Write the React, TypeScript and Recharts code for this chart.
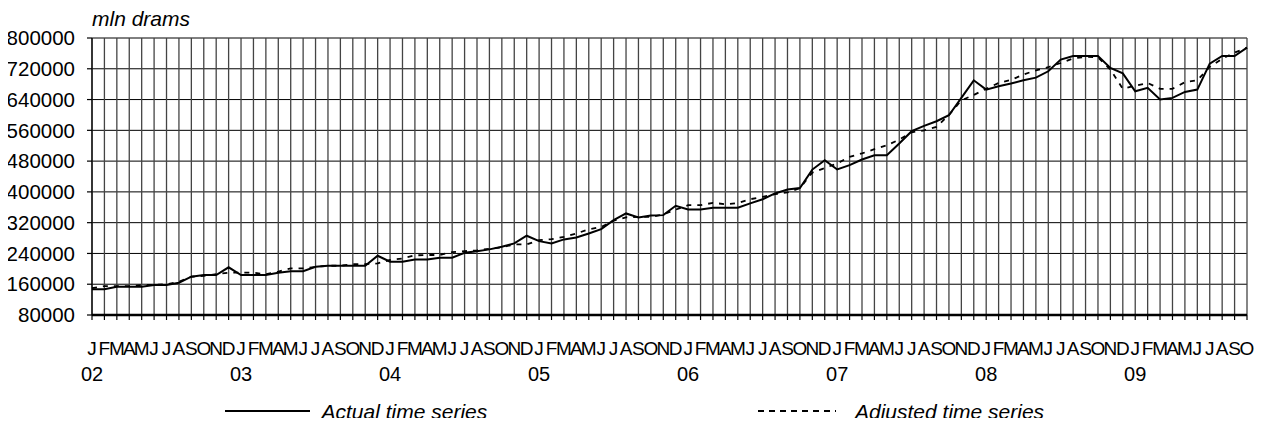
import React from "react";
import { LineChart, Line, XAxis, YAxis, CartesianGrid } from "recharts";

const monthLetters = ["J", "F", "M", "A", "M", "J", "J", "A", "S", "O", "N", "D"];
const yearLabels = ["02", "03", "04", "05", "06", "07", "08", "09"];
const yTicks = [80000, 160000, 240000, 320000, 400000, 480000, 560000, 640000, 720000, 800000];

const actualSeries = [
  147000, 147000, 153500, 153500, 153500, 158000, 158000, 164000, 179500, 184000, 184000, 204000,
  184000, 184000, 184000, 190000, 194000, 194000, 205500, 208000, 208000, 208000, 208000, 234000,
  218500, 218500, 224500, 224500, 228800, 228800, 241800, 246000, 250600, 257400, 266000, 286000,
  272000, 266000, 276500, 281700, 292000, 303300, 326700, 344000, 333600, 338800, 339600, 363800,
  354400, 354400, 358600, 358600, 358600, 370000, 381000, 396000, 406000, 410000, 458000, 482500,
  458200, 469500, 484200, 495400, 495400, 525800, 557800, 571500, 583700, 599300, 644300, 690000,
  665900, 674600, 681600, 690000, 697000, 713500, 743900, 753300, 753300, 753300, 722000, 708000,
  661600, 670600, 640000, 644300, 659800, 665900, 733500, 753300, 753300, 775000,
];

const adjustedSeries = [
  150000, 155000, 155000, 155000, 158000, 158000, 160000, 166500, 179500, 181500, 186000, 190000,
  190000, 190000, 186000, 193000, 201000, 201000, 205000, 208000, 208000, 212000, 212000, 214000,
  223000, 227000, 235000, 236000, 236000, 243500, 246000, 248000, 252000, 256000, 263500, 263500,
  274500, 277000, 283000, 292000, 302500, 309000, 325000, 334000, 335000, 335000, 341500, 354000,
  365500, 365500, 371500, 368000, 371000, 381000, 387000, 394000, 398500, 410000, 450000, 462000,
  474000, 491000, 500000, 511000, 521000, 536000, 555000, 560000, 569000, 600000, 638000, 652000,
  668000, 683000, 691000, 705000, 716000, 724000, 735000, 747000, 751000, 750000, 718000, 668000,
  676000, 683000, 668000, 668000, 685000, 690000, 725000, 746000, 762000, 775000,
];

const rows = actualSeries.map((v, i) => ({
  key: `${2002 + Math.floor(i / 12)}-${(i % 12) + 1}`,
  month: monthLetters[i % 12],
  year: i % 12 === 0 ? yearLabels[Math.floor(i / 12)] : "",
  actual: v,
  adjusted: adjustedSeries[i],
}));
const rowByKey: Record<string, any> = {};
rows.forEach((r) => (rowByKey[r.key] = r));

const FONT = "'Liberation Sans', Arial, sans-serif";

const MonthTick = (props: any) => {
  const { x, y, payload } = props;
  const r = rowByKey[payload.value];
  if (!r) return null;
  return (
    <g>
      <text x={x} y={y + 35} textAnchor="middle" fontSize={19} fontFamily={FONT} fill="#000">
        {r.month}
      </text>
      {r.year ? (
        <text x={x} y={y + 61} textAnchor="middle" fontSize={20} fontFamily={FONT} fill="#000">
          {r.year}
        </text>
      ) : null}
    </g>
  );
};

export default function App() {
  return (
    <div style={{ position: "relative", width: 1250, height: 410 }}>
      <LineChart
        width={1250}
        height={410}
        data={rows}
        margin={{ top: 30, right: 11, left: 4, bottom: 0 }}
      >
        <CartesianGrid vertical={false} stroke="#000" strokeWidth={1} />
        <CartesianGrid horizontal={false} stroke="#444" strokeWidth={1.3} />
        <XAxis
          dataKey="key"
          type="category"
          interval={0}
          height={103}
          tickSize={5}
          tickMargin={0}
          tick={<MonthTick />}
          axisLine={{ stroke: "#000", strokeWidth: 2.5 }}
          tickLine={{ stroke: "#000", strokeWidth: 1.2 }}
        />
        <YAxis
          type="number"
          domain={[80000, 800000]}
          ticks={yTicks}
          interval={0}
          width={80}
          tickSize={5}
          tickMargin={12}
          allowDataOverflow
          axisLine={{ stroke: "#000", strokeWidth: 1.2 }}
          tickLine={{ stroke: "#000", strokeWidth: 1.2 }}
          tick={{ fontSize: 20.5, fontFamily: FONT, fill: "#000" }}
        />
        <Line
          type="linear"
          dataKey="adjusted"
          stroke="#000"
          strokeWidth={1.8}
          strokeDasharray="5 6"
          dot={false}
          isAnimationActive={false}
        />
        <Line
          type="linear"
          dataKey="actual"
          stroke="#000"
          strokeWidth={2}
          dot={false}
          isAnimationActive={false}
        />
      </LineChart>
      <svg
        width={1250}
        height={418}
        style={{ position: "absolute", left: 0, top: 0, pointerEvents: "none" }}
      >
        <text x={84} y={18} fontSize={21} fontStyle="italic" fontFamily={FONT} fill="#000">
          mln drams
        </text>
        <line x1={217} y1={403} x2={302} y2={403} stroke="#000" strokeWidth={2} />
        <text x={313.5} y={411} fontSize={21} fontStyle="italic" fontFamily={FONT} fill="#000">
          Actual time series
        </text>
        <line x1={750} y1={403} x2={828} y2={403} stroke="#000" strokeWidth={1.8} strokeDasharray="6 5" />
        <text x={847} y={411} fontSize={21} fontStyle="italic" fontFamily={FONT} fill="#000">
          Adjusted time series
        </text>
      </svg>
    </div>
  );
}
